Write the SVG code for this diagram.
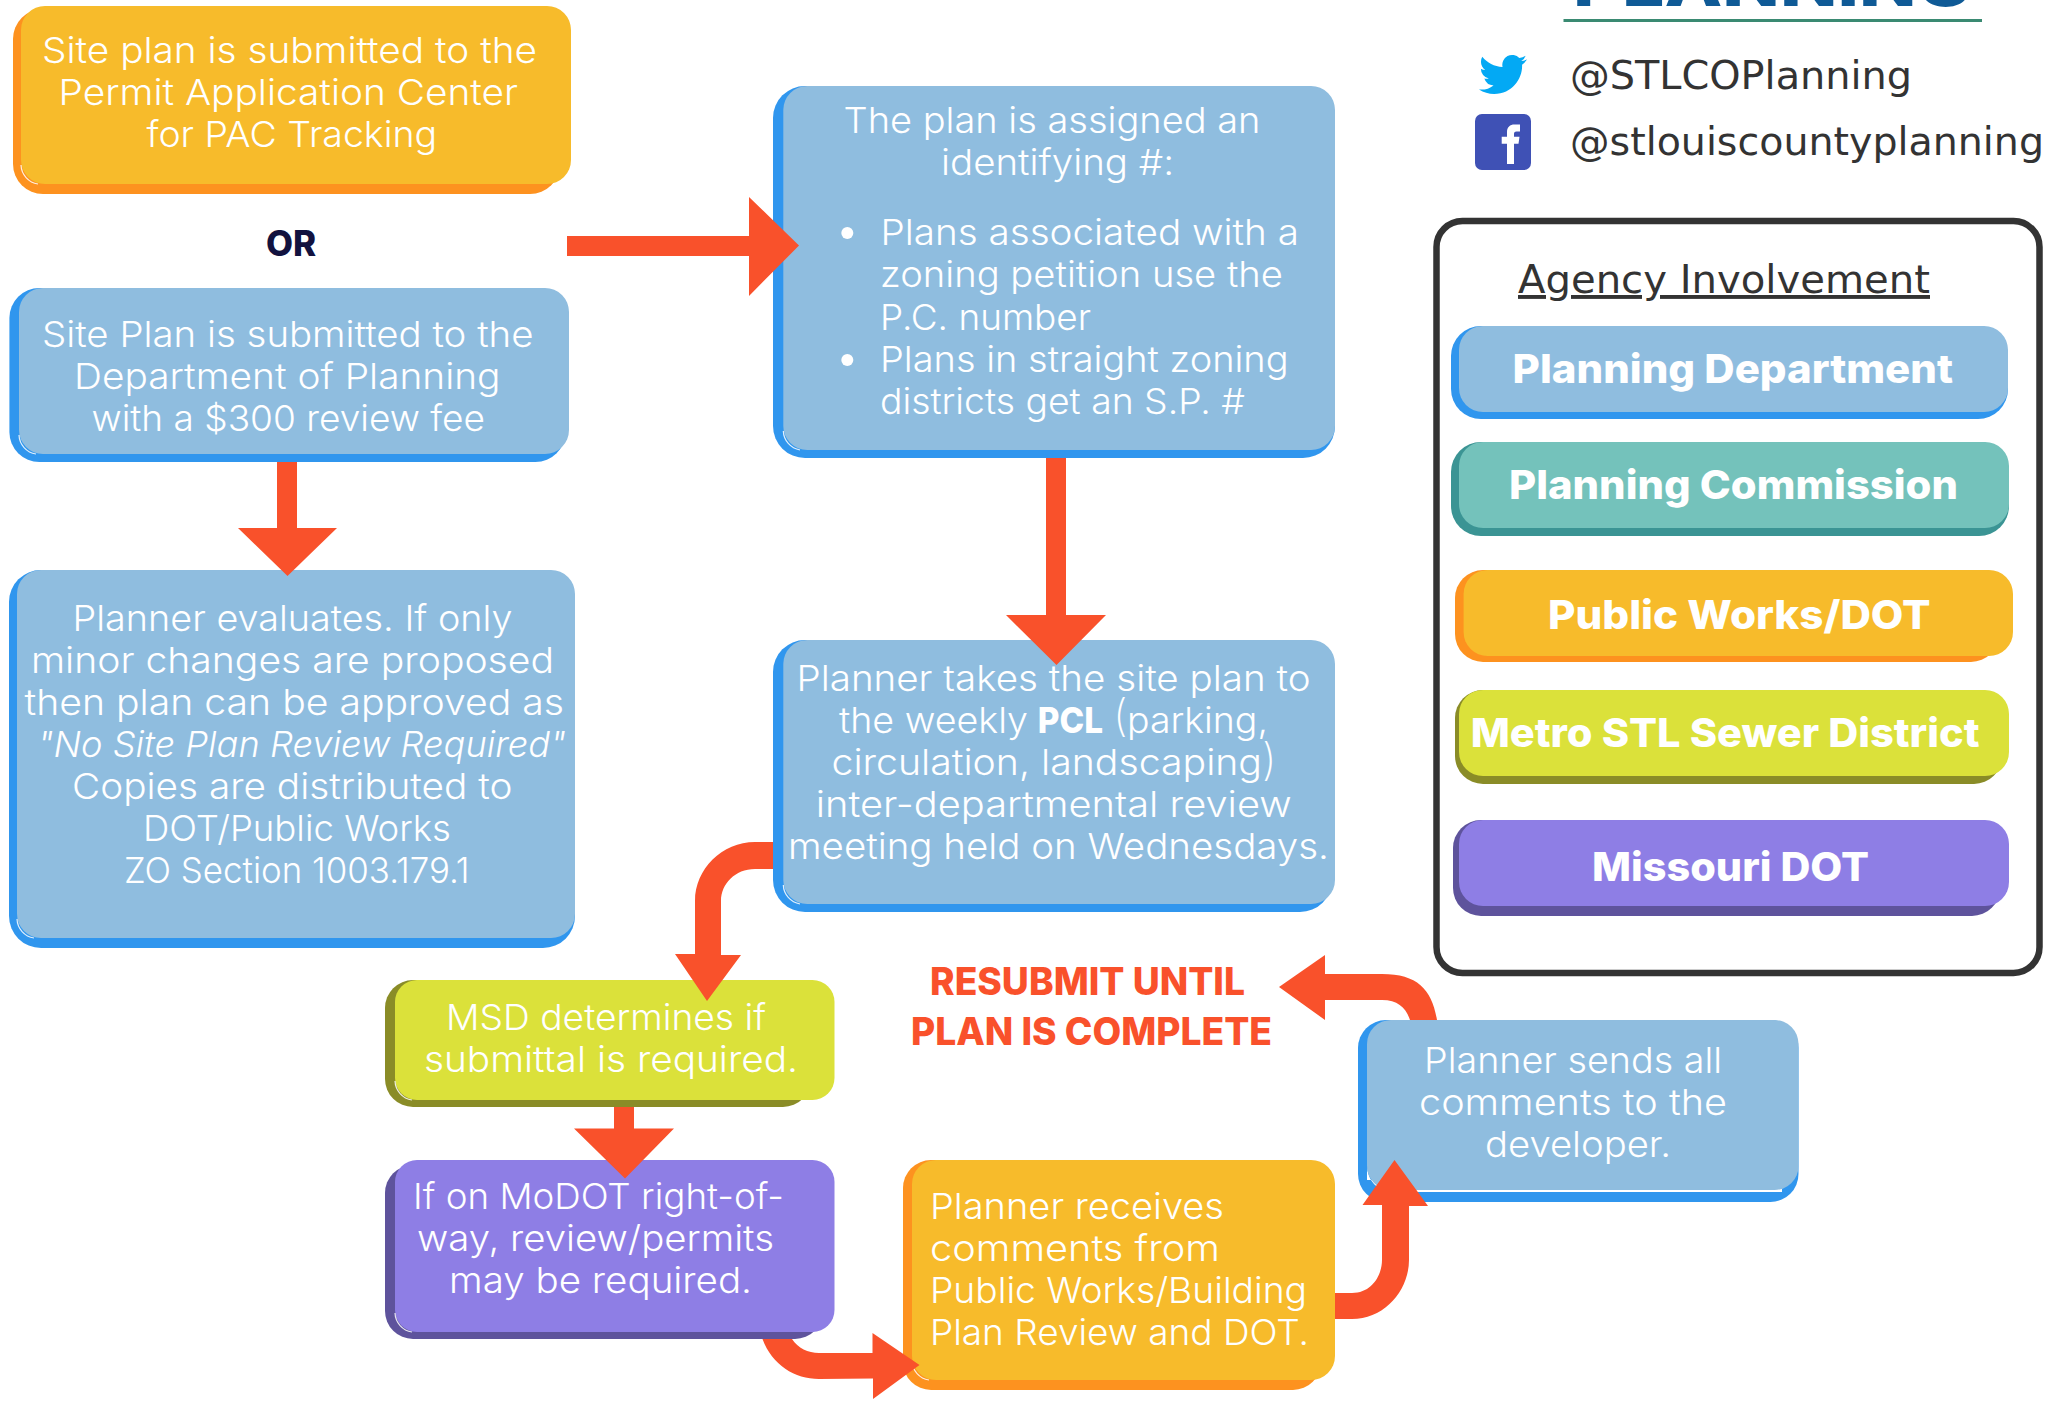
<svg xmlns="http://www.w3.org/2000/svg" width="2049" height="1401" viewBox="0 0 2049 1401">
<style>
text{font-family:Inter,"Open Sans","Liberation Sans",sans-serif;fill:#fff}
.t{font-size:35.5px;font-weight:300}
.b{font-weight:800}
.i{font-style:italic}
.p{font-size:44px;font-weight:200}
.l{font-size:39.5px;font-weight:800}
.r{font-size:38px;font-weight:800;fill:#f9512b}
.or{font-size:35px;font-weight:800;fill:#12123f}
.d{font-family:"DejaVu Sans",Verdana,sans-serif;font-size:39px;fill:#333}
.e{fill:#fff}
.c{fill:none;stroke:#fff;stroke-width:1.2;stroke-opacity:.85}
.fy{fill:#f7bb2b}.sy{fill:#fd921f}
.fb{fill:#8fbddf}.sb{fill:#3096ee}
.ft{fill:#74c2bb}.st{fill:#3b9494}
.fl{fill:#dbe13a}.sl{fill:#8a8c27}
.fp{fill:#8e7ee5}.sp{fill:#5e539c}
#connectors path{fill:#f9512b}
</style>

<g id="logo">
<text x="1573" y="6" style="font-size:62px;font-weight:800;fill:#0f5a96" textLength="400" lengthAdjust="spacingAndGlyphs">PLANNING</text>
<rect x="1563.5" y="19" width="418.5" height="3" fill="#3a8a72"/>
</g>

<g id="social">
<path transform="translate(1479 50.4) scale(2)" fill="#03a9f4" d="M23.953 4.57a10 10 0 01-2.825.775 4.958 4.958 0 002.163-2.723c-.951.555-2.005.959-3.127 1.184a4.92 4.92 0 00-8.384 4.482C7.69 8.095 4.067 6.13 1.64 3.162a4.822 4.822 0 00-.666 2.475c0 1.71.87 3.213 2.188 4.096a4.904 4.904 0 01-2.228-.616v.06a4.923 4.923 0 003.946 4.827 4.996 4.996 0 01-2.212.085 4.936 4.936 0 004.604 3.417 9.867 9.867 0 01-6.102 2.105c-.39 0-.779-.023-1.17-.067a13.995 13.995 0 007.557 2.209c9.053 0 13.998-7.496 13.998-13.985 0-.21 0-.42-.015-.63A9.935 9.935 0 0024 4.59z"/>
<text class="d" x="1570" y="89" textLength="342" lengthAdjust="spacingAndGlyphs">@STLCOPlanning</text>
<rect x="1475" y="114" width="56" height="56" rx="7" fill="#3f51b5"/>
<path fill="#fff" d="M1507 164V143.7H1501.7V136.7H1507V132C1507 127 1510 124.5 1514.5 124.5H1520V131.5H1516.5C1514.5 131.5 1514 132.5 1514 134V136.7H1519.5L1518.5 143.7H1514V164Z"/>
<text class="d" x="1570" y="155" textLength="474" lengthAdjust="spacingAndGlyphs">@stlouiscountyplanning</text>
</g>

<g id="legend">
<rect x="1436.5" y="221" width="603" height="752" rx="26" fill="#fff" stroke="#333" stroke-width="6.5"/>
<text class="d" x="1518" y="293" textLength="412" lengthAdjust="spacingAndGlyphs" style="text-decoration:underline">Agency Involvement</text>
</g>

<g id="legend-planning-department">
<rect class="sb" x="1451" y="326" width="557" height="93" rx="30"/><rect class="fb" x="1459" y="326" width="549" height="86" rx="24"/>
<text class="l" x="1512.6" y="383" textLength="440.4" lengthAdjust="spacingAndGlyphs">Planning Department</text>
</g>
<g id="legend-planning-commission">
<rect class="st" x="1451" y="442" width="558" height="94" rx="30"/><rect class="ft" x="1459" y="442" width="550" height="86" rx="24"/>
<text class="l" x="1509" y="499" textLength="449" lengthAdjust="spacingAndGlyphs">Planning Commission</text>
</g>
<g id="legend-public-works">
<rect class="sy" x="1455" y="570" width="544" height="92" rx="28"/><rect class="fy" x="1463.6" y="570" width="549.4" height="86" rx="24"/>
<text class="l" x="1548" y="629" textLength="382.6" lengthAdjust="spacingAndGlyphs">Public Works/DOT</text>
</g>
<g id="legend-msd">
<rect class="sl" x="1455" y="690" width="547" height="94" rx="28"/><rect class="fl" x="1459" y="690" width="550" height="86" rx="24"/>
<text class="l" x="1470.7" y="747" textLength="508.8" lengthAdjust="spacingAndGlyphs">Metro STL Sewer District</text>
</g>
<g id="legend-modot">
<rect class="sp" x="1453" y="820" width="547" height="96" rx="28"/><rect class="fp" x="1459" y="820" width="550" height="86" rx="24"/>
<text class="l" x="1592" y="881" textLength="277" lengthAdjust="spacingAndGlyphs">Missouri DOT</text>
</g>

<g id="node-pac">
<rect class="sy" x="13" y="9" width="547" height="185" rx="30"/><rect class="fy" x="21" y="6" width="550" height="178" rx="24"/>
<path class="c" d="M21 165A20 20 0 0 0 38 184"/>
<text class="t" x="42" y="63" textLength="495" lengthAdjust="spacingAndGlyphs">Site plan is submitted to the</text>
<text class="t" x="58.6" y="105" textLength="459.4" lengthAdjust="spacingAndGlyphs">Permit Application Center</text>
<text class="t" x="146.4" y="147" textLength="290.6" lengthAdjust="spacingAndGlyphs">for PAC Tracking</text>
</g>

<text id="or" class="or" x="291" y="256" text-anchor="middle">OR</text>

<g id="node-planning-submit">
<rect class="sb" x="9.4" y="288" width="556" height="174" rx="30"/><rect class="fb" x="19" y="288" width="550" height="166" rx="24"/>
<path class="c" d="M19 435A20 20 0 0 0 36 454"/>
<text class="t" x="42" y="347" textLength="491.5" lengthAdjust="spacingAndGlyphs">Site Plan is submitted to the</text>
<text class="t" x="74" y="389" textLength="426.5" lengthAdjust="spacingAndGlyphs">Department of Planning</text>
<text class="t" x="91.5" y="431" textLength="393.5" lengthAdjust="spacingAndGlyphs">with a $300 review fee</text>
</g>

<g id="node-evaluate">
<rect class="sb" x="9" y="570" width="566" height="378" rx="32"/><rect class="fb" x="17" y="570" width="558" height="368" rx="24"/>
<path class="c" d="M17 919A20 20 0 0 0 34 938"/>
<text class="t" x="72.6" y="631" textLength="439.9" lengthAdjust="spacingAndGlyphs">Planner evaluates. If only</text>
<text class="t" x="31" y="673" textLength="523" lengthAdjust="spacingAndGlyphs">minor changes are proposed</text>
<text class="t" x="24.5" y="715" textLength="539.5" lengthAdjust="spacingAndGlyphs">then plan can be approved as</text>
<text class="t i" x="37.6" y="757" textLength="528.4" lengthAdjust="spacingAndGlyphs">"No Site Plan Review Required"</text>
<text class="t" x="72" y="799" textLength="440.5" lengthAdjust="spacingAndGlyphs">Copies are distributed to</text>
<text class="t" x="143" y="841" textLength="308" lengthAdjust="spacingAndGlyphs">DOT/Public Works</text>
<text class="t" x="124" y="883" textLength="345.6" lengthAdjust="spacingAndGlyphs">ZO Section 1003.179.1</text>
</g>

<g id="node-identify">
<rect class="sb" x="773" y="86" width="562" height="372" rx="32"/><rect class="fb" x="783.3" y="86" width="551.7" height="364" rx="24"/>
<path class="c" d="M783.3 431A20 20 0 0 0 800 450"/>
<text class="t" x="843.5" y="133" textLength="416.9" lengthAdjust="spacingAndGlyphs">The plan is assigned an</text>
<text class="t" x="941" y="175" textLength="233" lengthAdjust="spacingAndGlyphs">identifying #:</text>
<circle class="e" cx="847.3" cy="233" r="6"/>
<text class="t" x="880.4" y="245" textLength="418.6" lengthAdjust="spacingAndGlyphs">Plans associated with a</text>
<text class="t" x="880" y="287" textLength="403" lengthAdjust="spacingAndGlyphs">zoning petition use the</text>
<text class="t" x="880" y="330" textLength="211" lengthAdjust="spacingAndGlyphs">P.C. number</text>
<circle class="e" cx="847.3" cy="360" r="6"/>
<text class="t" x="880" y="372" textLength="408.6" lengthAdjust="spacingAndGlyphs">Plans in straight zoning</text>
<text class="t" x="880" y="414" textLength="365" lengthAdjust="spacingAndGlyphs">districts get an S.P. #</text>
</g>

<g id="node-pcl">
<rect class="sb" x="773" y="640" width="559" height="272" rx="32"/><rect class="fb" x="783.3" y="640" width="551.7" height="264" rx="24"/>
<path class="c" d="M783.3 885A20 20 0 0 0 800 904"/>
<text class="t" x="796.5" y="691" textLength="514" lengthAdjust="spacingAndGlyphs">Planner takes the site plan to</text>
<text class="t" y="733"><tspan x="839" textLength="189" lengthAdjust="spacingAndGlyphs">the weekly</tspan><tspan class="b" x="1037.7" textLength="65.3" lengthAdjust="spacingAndGlyphs">PCL</tspan><tspan class="p" x="1113" dy="-2">(</tspan><tspan x="1127" dy="2" textLength="141" lengthAdjust="spacingAndGlyphs">parking,</tspan></text>
<text class="t" y="775"><tspan x="831.5" textLength="430.5" lengthAdjust="spacingAndGlyphs">circulation, landscaping</tspan><tspan class="p" x="1262">)</tspan></text>
<text class="t" x="815.7" y="817" textLength="476" lengthAdjust="spacingAndGlyphs">inter-departmental review</text>
<text class="t" x="788" y="859" textLength="541" lengthAdjust="spacingAndGlyphs">meeting held on Wednesdays.</text>
</g>

<g id="node-msd">
<rect class="sl" x="385" y="980" width="426" height="127" rx="28"/><rect class="fl" x="395" y="980" width="439.5" height="120" rx="22"/>
<path class="c" d="M395 1081A20 20 0 0 0 412 1100"/>
<text class="t" x="446" y="1029.6" textLength="320" lengthAdjust="spacingAndGlyphs">MSD determines if</text>
<text class="t" x="424" y="1072" textLength="374" lengthAdjust="spacingAndGlyphs">submittal is required.</text>
</g>

<g id="node-modot">
<rect class="sp" x="385" y="1165" width="438" height="174" rx="28"/><rect class="fp" x="395" y="1160" width="439.5" height="172" rx="22"/>
<path class="c" d="M395 1313A20 20 0 0 0 412 1332"/>
<text class="t" x="413" y="1209" textLength="371" lengthAdjust="spacingAndGlyphs">If on MoDOT right-of-</text>
<text class="t" x="417" y="1251" textLength="357" lengthAdjust="spacingAndGlyphs">way, review/permits</text>
<text class="t" x="449" y="1293" textLength="303" lengthAdjust="spacingAndGlyphs">may be required.</text>
</g>

<g id="node-comments">
<rect class="sy" x="903" y="1160" width="418" height="230" rx="28"/><rect class="fy" x="912" y="1160" width="423" height="220" rx="24"/>
<path class="c" d="M912 1361A20 20 0 0 0 929 1380"/>
<text class="t" x="930" y="1218.7" textLength="294" lengthAdjust="spacingAndGlyphs">Planner receives</text>
<text class="t" x="930" y="1260.7" textLength="290" lengthAdjust="spacingAndGlyphs">comments from</text>
<text class="t" x="930" y="1302.7" textLength="377" lengthAdjust="spacingAndGlyphs">Public Works/Building</text>
<text class="t" x="930" y="1344.7" textLength="379" lengthAdjust="spacingAndGlyphs">Plan Review and DOT.</text>
</g>

<g id="node-developer">
<rect class="sb" x="1358" y="1020" width="440.5" height="182" rx="28"/><path class="e" d="M1367 1165C1367 1180 1378 1192 1392 1192H1782V1180H1367Z"/><rect class="fb" x="1367" y="1020" width="431.5" height="170" rx="24"/>
<text class="t" x="1424" y="1073" textLength="298" lengthAdjust="spacingAndGlyphs">Planner sends all</text>
<text class="t" x="1419" y="1115" textLength="308" lengthAdjust="spacingAndGlyphs">comments to the</text>
<text class="t" x="1485" y="1157" textLength="186" lengthAdjust="spacingAndGlyphs">developer.</text>
</g>

<g id="resubmit-label">
<text class="r" x="930" y="995" textLength="315" lengthAdjust="spacingAndGlyphs">RESUBMIT UNTIL</text>
<text class="r" x="911" y="1045" textLength="361" lengthAdjust="spacingAndGlyphs">PLAN IS COMPLETE</text>
</g>

<g id="connectors">
<path d="M567 236H749V197L799 245.5L749 296V256H567Z"/>
<path d="M277 462H297V528H337L287.5 576L238 528H277Z"/>
<path d="M1046 458H1066V615H1106L1056.5 665L1006 615H1046Z"/>
<path d="M773 842H755C722 842 695 869 695 901L695 954H675L707 1001L741 955H721V901C721 884 735 869 755 869H773Z"/>
<path d="M614 1107H634V1128.5H674L625 1178.5L574 1128.5H614Z"/>
<path d="M762.5 1339C772 1365 795 1379 819 1379L873 1378.5V1399L919.5 1365L872.5 1333V1353L819 1353C808 1353 798 1348 792 1339Z"/>
<path d="M1335 1293H1352C1372 1293 1382 1275 1382 1260V1205H1362.5L1394.5 1160L1428 1206H1409V1260C1409 1290 1385 1319 1352 1319H1335Z"/>
<path d="M1437 1020C1432 990 1418 974 1382 974H1325V955L1279 987L1325 1020V1000H1382C1398 1000 1406 1008 1410 1020Z"/>
</g>
</svg>
